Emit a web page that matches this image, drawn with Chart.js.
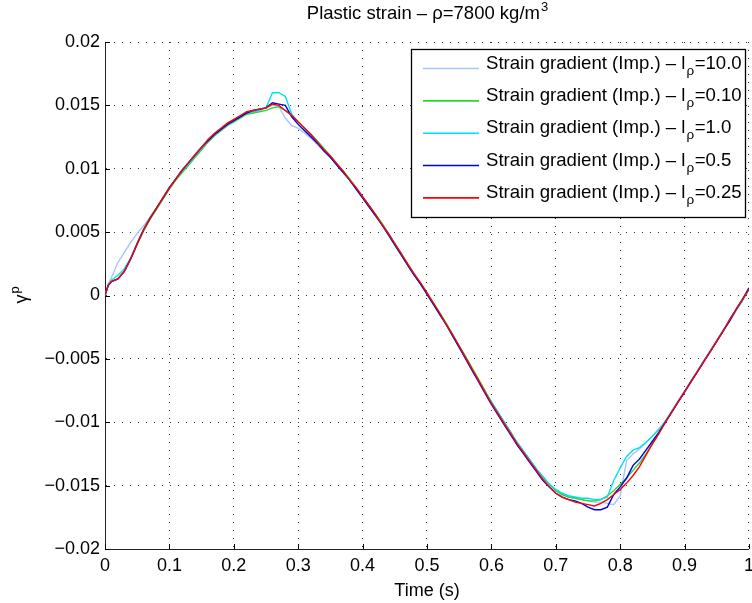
<!DOCTYPE html>
<html><head><meta charset="utf-8">
<script src="https://cdn.jsdelivr.net/npm/chart.js@4"></script>
<style>html,body{margin:0;padding:0;background:#fff;overflow:hidden;}canvas{display:block;}</style>
</head><body>
<canvas id="c" width="760" height="603"></canvas>
<script>
const time = [0,0.005,
0.01,0.02,0.03,0.04,0.05,0.06,0.07,0.08,0.09,0.10,
0.11,0.12,0.13,0.14,0.15,0.16,0.17,0.18,0.19,0.20,
0.21,0.22,0.23,0.24,0.25,0.26,0.27,0.28,0.29,0.30,
0.31,0.32,0.33,0.34,0.35,0.36,0.37,0.38,0.39,0.40,
0.41,0.42,0.43,0.44,0.45,0.46,0.47,0.48,0.49,0.50,
0.51,0.52,0.53,0.54,0.55,0.56,0.57,0.58,0.59,0.60,
0.61,0.62,0.63,0.64,0.65,0.66,0.67,0.68,0.69,0.70,
0.71,0.72,0.73,0.74,0.75,0.76,0.77,0.78,0.79,0.80,
0.81,0.82,0.83,0.84,0.85,0.86,0.87,0.88,0.89,0.90,
0.91,0.92,0.93,0.94,0.95,0.96,0.97,0.98,0.99,1.00];

const sg_l10 = [0,0.0009,
0.0014,0.0026,0.0034,0.0042,0.0049,0.0055,0.0062,0.0069,0.0077,0.0085,
0.0092,0.0098,0.0104,0.0110,0.0116,0.0122,0.0127,0.0131,0.0135,0.0138,
0.0141,0.0144,0.0146,0.0147,0.0148,0.0150,0.0149,0.0140,0.0134,0.0132,
0.0128,0.0124,0.0119,0.0114,0.0109,0.0103,0.0097,0.0091,0.0084,0.0077,
0.0070,0.0063,0.0056,0.0048,0.0040,0.0032,0.0024,0.0016,0.0009,0.0001,
-0.0007,-0.0015,-0.0023,-0.0032,-0.0041,-0.0049,-0.0058,-0.0067,-0.0076,-0.0084,
-0.0092,-0.0100,-0.0108,-0.0116,-0.0123,-0.0130,-0.0137,-0.0143,-0.0149,-0.0154,
-0.0157,-0.0159,-0.0160,-0.0161,-0.0162,-0.0163,-0.0163,-0.0164,-0.0165,-0.0158,
-0.0130,-0.0125,-0.0121,-0.0116,-0.0111,-0.0105,-0.0099,-0.0091,-0.0083,-0.0075,
-0.0067,-0.0059,-0.0051,-0.0043,-0.0035,-0.0027,-0.0019,-0.0011,-0.0003,0.0006];

const sg_l010 = [0,0.0008,
0.0011,0.0013,0.0019,0.0029,0.0040,0.0051,0.0060,0.0068,0.0076,0.0084,
0.0091,0.0097,0.0103,0.0109,0.0115,0.0121,0.0126,0.0130,0.0134,0.0137,
0.0140,0.0143,0.0144,0.0145,0.0146,0.0148,0.0149,0.0146,0.0142,0.0137,
0.0132,0.0127,0.0122,0.0116,0.0110,0.0104,0.0098,0.0092,0.0085,0.0078,
0.0071,0.0064,0.0057,0.0049,0.0041,0.0033,0.0025,0.0017,0.0010,0.0002,
-0.0006,-0.0014,-0.0022,-0.0031,-0.0040,-0.0048,-0.0057,-0.0066,-0.0075,-0.0084,
-0.0092,-0.0100,-0.0108,-0.0116,-0.0123,-0.0130,-0.0137,-0.0143,-0.0149,-0.0154,
-0.0157,-0.0159,-0.0160,-0.0161,-0.0162,-0.0162,-0.0161,-0.0158,-0.0154,-0.0149,
-0.0144,-0.0138,-0.0132,-0.0125,-0.0117,-0.0109,-0.0100,-0.0092,-0.0084,-0.0076,
-0.0068,-0.0060,-0.0052,-0.0044,-0.0036,-0.0028,-0.0019,-0.0011,-0.0003,0.0005];

const sg_l1 = [0,0.0008,
0.0012,0.0016,0.0021,0.0030,0.0041,0.0052,0.0061,0.0069,0.0077,0.0085,
0.0092,0.0098,0.0104,0.0110,0.0116,0.0122,0.0127,0.0131,0.0135,0.0138,
0.0141,0.0144,0.0145,0.0146,0.0148,0.0160,0.0160,0.0157,0.0143,0.0137,
0.0132,0.0126,0.0121,0.0115,0.0109,0.0103,0.0097,0.0091,0.0084,0.0077,
0.0070,0.0063,0.0056,0.0048,0.0040,0.0032,0.0024,0.0017,0.0009,0.0001,
-0.0007,-0.0015,-0.0023,-0.0032,-0.0041,-0.0049,-0.0058,-0.0067,-0.0076,-0.0084,
-0.0092,-0.0100,-0.0108,-0.0116,-0.0123,-0.0130,-0.0137,-0.0143,-0.0149,-0.0153,
-0.0156,-0.0158,-0.0159,-0.0160,-0.0160,-0.0161,-0.0161,-0.0159,-0.0146,-0.0136,
-0.0127,-0.0122,-0.0120,-0.0116,-0.0111,-0.0106,-0.0100,-0.0092,-0.0084,-0.0076,
-0.0068,-0.0060,-0.0052,-0.0044,-0.0036,-0.0028,-0.0020,-0.0012,-0.0004,0.0005];

const sg_l05 = [0,0.0008,
0.0011,0.0013,0.0019,0.0029,0.0041,0.0052,0.0061,0.0069,0.0077,0.0085,
0.0092,0.0099,0.0105,0.0111,0.0117,0.0122,0.0127,0.0131,0.0135,0.0138,
0.0141,0.0144,0.0146,0.0147,0.0148,0.0152,0.0151,0.0150,0.0141,0.0135,
0.0130,0.0125,0.0120,0.0114,0.0109,0.0103,0.0097,0.0091,0.0084,0.0077,
0.0070,0.0063,0.0056,0.0048,0.0040,0.0032,0.0024,0.0016,0.0009,0.0001,
-0.0007,-0.0015,-0.0023,-0.0032,-0.0041,-0.0050,-0.0059,-0.0068,-0.0077,-0.0086,
-0.0094,-0.0102,-0.0110,-0.0118,-0.0125,-0.0132,-0.0139,-0.0146,-0.0151,-0.0156,
-0.0159,-0.0161,-0.0162,-0.0164,-0.0167,-0.0169,-0.0169,-0.0167,-0.0157,-0.0151,
-0.0144,-0.0134,-0.0129,-0.0122,-0.0115,-0.0108,-0.0100,-0.0092,-0.0084,-0.0076,
-0.0068,-0.0060,-0.0052,-0.0044,-0.0036,-0.0028,-0.0020,-0.0011,-0.0003,0.0006];

const sg_l025 = [0,0.0008,
0.0011,0.0013,0.0019,0.0029,0.0041,0.0052,0.0061,0.0069,0.0077,0.0085,
0.0092,0.0099,0.0105,0.0111,0.0117,0.0123,0.0128,0.0132,0.0136,0.0139,
0.0142,0.0145,0.0146,0.0147,0.0148,0.0151,0.0150,0.0146,0.0142,0.0137,
0.0132,0.0127,0.0121,0.0115,0.0110,0.0104,0.0098,0.0091,0.0085,0.0078,
0.0071,0.0064,0.0056,0.0049,0.0041,0.0033,0.0025,0.0017,0.0010,0.0002,
-0.0006,-0.0014,-0.0023,-0.0031,-0.0040,-0.0049,-0.0058,-0.0067,-0.0076,-0.0085,
-0.0093,-0.0101,-0.0109,-0.0117,-0.0124,-0.0131,-0.0138,-0.0145,-0.0151,-0.0156,
-0.0159,-0.0161,-0.0163,-0.0164,-0.0165,-0.0166,-0.0164,-0.0161,-0.0157,-0.0153,
-0.0148,-0.0142,-0.0135,-0.0126,-0.0117,-0.0109,-0.0100,-0.0092,-0.0084,-0.0076,
-0.0068,-0.0060,-0.0052,-0.0044,-0.0036,-0.0028,-0.0019,-0.0011,-0.0003,0.0005];

const legendValues = ['10.0','0.10','1.0','0.5','0.25'];
const seriesColors = ['#a8c4ff','#2ad82a','#00e0f0','#0000e6','#ff0000'];
const xTickValues = [0,0.1,0.2,0.3,0.4,0.5,0.6,0.7,0.8,0.9,1];
const xTickLabels = ['0','0.1','0.2','0.3','0.4','0.5','0.6','0.7','0.8','0.9','1'];
const yTickValues = [-0.02,-0.015,-0.01,-0.005,0,0.005,0.01,0.015,0.02];
const yTickLabels = ['\u22120.02','\u22120.015','\u22120.01','\u22120.005','0','0.005','0.01','0.015','0.02'];
const titleMain = 'Plastic strain \u2013 \u03c1=7800 kg/m';
const titleSup = '3';
const xTitle = 'Time (s)';
const legendPrefix = 'Strain gradient (Imp.) \u2013 l';

const allSeries = [sg_l10, sg_l010, sg_l1, sg_l05, sg_l025];
const FONT = "'Liberation Sans', Arial, sans-serif";

const datasets = allSeries.map((s, k) => ({
  label: legendPrefix + '\u03c1=' + legendValues[k],
  data: time.map((t, i) => ({x: t, y: s[i]})),
  borderColor: seriesColors[k],
  borderWidth: 1.4,
  pointRadius: 0,
  tension: 0,
  fill: false,
  order: allSeries.length - 1 - k
}));

const decor = {
  id: 'decor',
  afterDraw(chart) {
    const ctx = chart.ctx;
    const a = chart.chartArea;
    const xs = chart.scales.x, ys = chart.scales.y;
    ctx.save();
    ctx.strokeStyle = '#000'; ctx.lineWidth = 1;
    ctx.beginPath();
    xTickValues.forEach(v => { const px = Math.round(xs.getPixelForValue(v)) + 0.5; ctx.moveTo(px, a.bottom); ctx.lineTo(px, a.bottom - 5); });
    yTickValues.forEach(v => { const py = Math.round(ys.getPixelForValue(v)) + 0.5; ctx.moveTo(a.left, py); ctx.lineTo(a.left + 5, py); });
    ctx.stroke();
    // title
    ctx.fillStyle = '#000';
    ctx.font = '18.5px ' + FONT;
    ctx.textBaseline = 'alphabetic';
    const w1 = ctx.measureText(titleMain).width;
    ctx.font = '13px ' + FONT;
    const w2 = ctx.measureText(titleSup).width;
    const tx = (a.left + a.right) / 2 - (w1 + w2) / 2;
    ctx.font = '18.5px ' + FONT;
    ctx.textAlign = 'left';
    ctx.fillText(titleMain, tx, 18.5);
    ctx.font = '13px ' + FONT;
    ctx.fillText(titleSup, tx + w1 + 1, 11);
    // x title
    ctx.font = '18px ' + FONT;
    ctx.textAlign = 'center';
    ctx.fillText(xTitle, (a.left + a.right) / 2, 596);
    // y title (rotated)
    ctx.save();
    ctx.translate(27, (a.top + a.bottom) / 2);
    ctx.rotate(-Math.PI / 2);
    ctx.textAlign = 'left';
    ctx.font = '18px ' + FONT;
    const gw = ctx.measureText('\u03b3').width;
    ctx.fillText('\u03b3', -8, 0);
    ctx.font = '13px ' + FONT;
    ctx.fillText('p', -8 + gw + 1, -8);
    ctx.restore();
    // legend box
    const bx = 411.5, by = 49.5, bw = 334, bh = 168;
    ctx.fillStyle = '#fff';
    ctx.fillRect(bx, by, bw, bh);
    ctx.strokeStyle = '#000'; ctx.lineWidth = 1.3;
    ctx.strokeRect(bx, by, bw, bh);
    legendValues.forEach((val, k) => {
      const yb = 68.5 + k * 32.35;
      ctx.strokeStyle = seriesColors[k]; ctx.lineWidth = 1.6;
      ctx.beginPath(); ctx.moveTo(423, yb); ctx.lineTo(479, yb); ctx.stroke();
      ctx.fillStyle = '#000';
      ctx.textAlign = 'left';
      ctx.font = '18.6px ' + FONT;
      ctx.fillText(legendPrefix, 486, yb);
      let x = 486 + ctx.measureText(legendPrefix).width;
      ctx.font = '13.5px ' + FONT;
      ctx.fillText('\u03c1', x + 1, yb + 6);
      x += ctx.measureText('\u03c1').width + 1.5;
      ctx.font = '18.6px ' + FONT;
      ctx.fillText('=' + val, x, yb);
    });
    ctx.restore();
  }
};

new Chart(document.getElementById('c'), {
  type: 'line',
  data: { datasets },
  options: {
    responsive: false,
    animation: false,
    devicePixelRatio: 1,
    layout: { padding: { top: 42, right: 7, left: 0, bottom: 0 } },
    plugins: { legend: { display: false }, tooltip: { enabled: false }, title: { display: false } },
    scales: {
      x: {
        type: 'linear', min: 0, max: 1,
        afterBuildTicks: s => { s.ticks = xTickValues.map(v => ({ value: v })); },
        afterFit: s => { s.height = 54; },
        ticks: { autoSkip: false, maxRotation: 0, padding: 6, color: '#000', font: { family: FONT, size: 18 },
          callback: (v) => { const i = xTickValues.indexOf(v); return i >= 0 ? xTickLabels[i] : ''; } },
        grid: { color: '#333', lineWidth: 1, drawTicks: false },
        border: { display: true, color: '#222', width: 1, dash: [1, 7] }
      },
      y: {
        type: 'linear', min: -0.02, max: 0.02,
        afterBuildTicks: s => { s.ticks = yTickValues.map(v => ({ value: v })); },
        afterFit: s => { s.width = 105; },
        ticks: { autoSkip: false, padding: 5, color: '#000', font: { family: FONT, size: 18 },
          callback: (v) => { const i = yTickValues.findIndex(t => Math.abs(t - v) < 1e-9); return i >= 0 ? yTickLabels[i] : ''; } },
        grid: { color: '#333', lineWidth: 1, drawTicks: false },
        border: { display: true, color: '#222', width: 1, dash: [1, 7] }
      }
    }
  },
  plugins: [decor]
});
</script>
</body></html>
